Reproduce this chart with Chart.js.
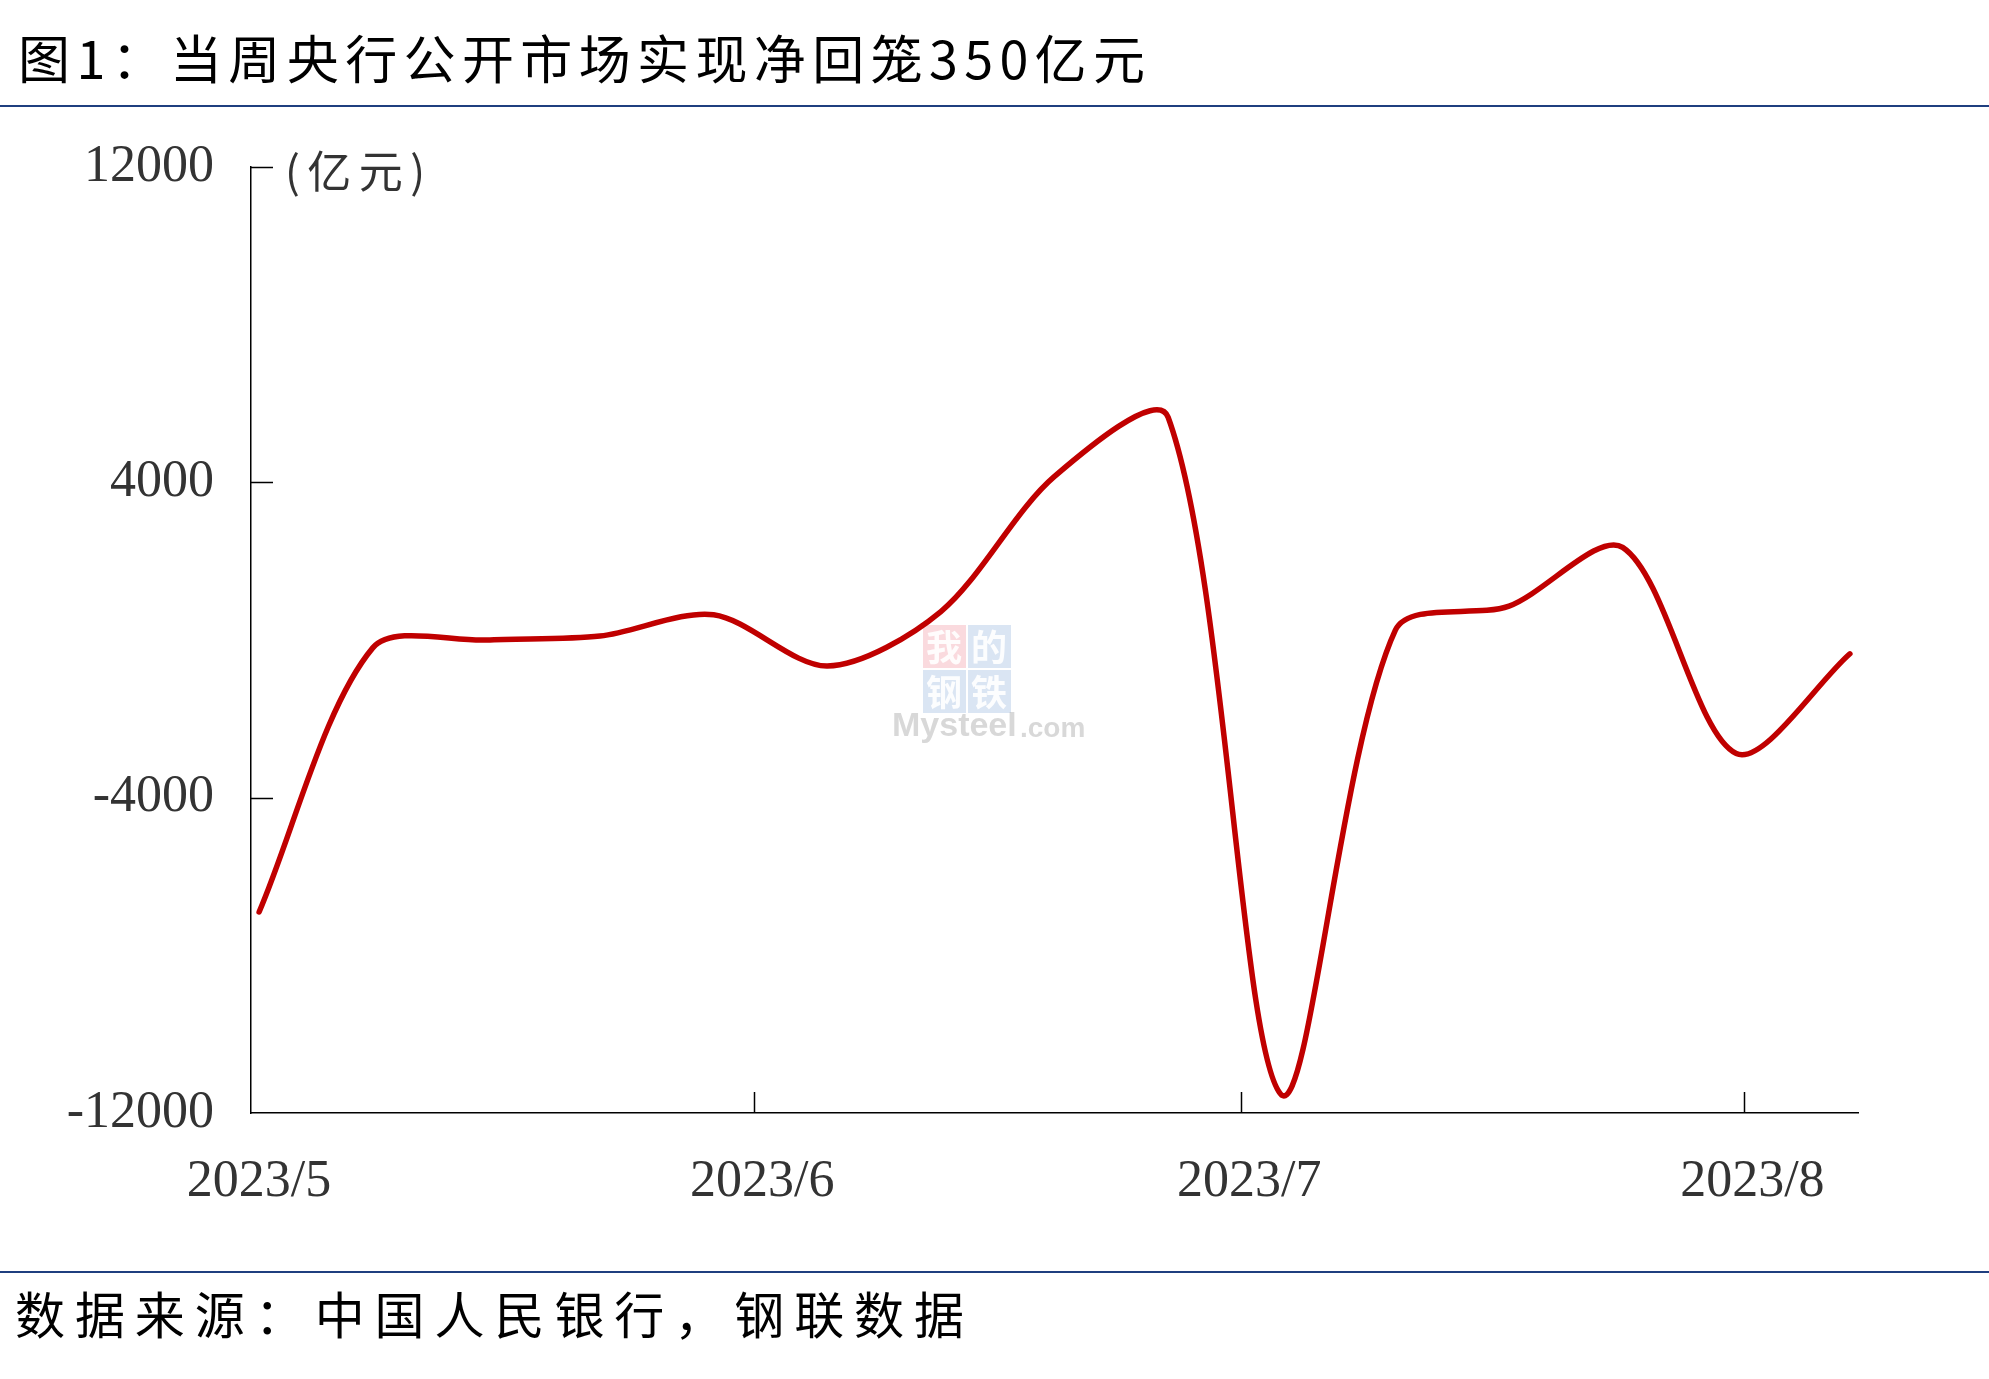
<!DOCTYPE html>
<html>
<head>
<meta charset="utf-8">
<script src="https://cdn.jsdelivr.net/npm/chart.js"></script>
<style>
	html, body { margin: 0; padding: 0; background: #fff; }
	#wrap { width: 1989px; height: 1379px; }
</style>
</head>
<body>
<div id="wrap"><canvas id="rrChart" width="1989" height="1379"></canvas></div>
<script>
// 每周公开市场净投放（亿元），负值为净回笼
const weekDates = ['2023-05-01', '2023-05-08', '2023-05-15', '2023-05-22', '2023-05-29',
	'2023-06-05', '2023-06-12', '2023-06-19', '2023-06-26', '2023-07-03',
	'2023-07-10', '2023-07-17', '2023-07-24', '2023-07-31', '2023-08-07'];
const netInjection = [-6900, -200, 0, 100, 640, -660, 720, 4150, 5650, -11550, 250, 860, 2350, -2880, -350];

// 坐标轴
const monthTicks = ['2023-05-01', '2023-06-01', '2023-07-01', '2023-08-01'];
const monthLabels = ['2023/5', '2023/6', '2023/7', '2023/8'];
const axisStart = '2023-05-01';
const axisEnd = '2023-08-08';
const yTicks = [-12000, -4000, 4000, 12000];

const titleText = '图1：当周央行公开市场实现净回笼350亿元';
const sourceText = '数据来源：中国人民银行，钢联数据';
const unitText = '(亿元)';

function dayOf(d) {
	return (Date.parse(d) - Date.parse(axisStart)) / 86400000;
}

// 写字并拉伸字距到目标宽度
function spacedText(ctx, text, x, y, width) {
	ctx.letterSpacing = '0px';
	const w = ctx.measureText(text).width;
	const n = Array.from(text).length;
	ctx.letterSpacing = ((width - w) / (n - 1)) + 'px';
	ctx.fillText(text, x, y);
	ctx.letterSpacing = '0px';
}

const pagePlugin = {
	id: 'page',
	beforeDraw(chart) {
		const ctx = chart.ctx;
		ctx.save();
		ctx.fillStyle = '#fff';
		ctx.fillRect(0, 0, chart.width, chart.height);

		ctx.fillStyle = '#000';
		ctx.textBaseline = 'middle';
		ctx.textAlign = 'left';
		ctx.font = '52px "Noto Sans CJK SC"';
		spacedText(ctx, titleText, 18, 59, 1127);

		ctx.font = '50px "Noto Sans CJK SC"';
		spacedText(ctx, sourceText, 15, 1315, 949);

		// 蓝色分隔线
		ctx.fillStyle = '#1F3F7F';
		ctx.fillRect(0, 105, chart.width, 2);
		ctx.fillRect(0, 1271, chart.width, 2);

		// 单位
		ctx.fillStyle = '#333';
		ctx.font = '44px "Noto Sans CJK SC"';
		spacedText(ctx, unitText, 285, 171, 140);

		// 水印
		const wx = 923, wy = 625;
		ctx.fillStyle = 'rgba(240,150,160,0.35)';
		ctx.fillRect(wx, wy, 43, 43);
		ctx.fillStyle = 'rgba(150,180,220,0.35)';
		ctx.fillRect(wx + 45, wy, 43, 43);
		ctx.fillRect(wx, wy + 45, 43, 43);
		ctx.fillRect(wx + 45, wy + 45, 43, 43);
		ctx.fillStyle = 'rgba(255,255,255,0.9)';
		ctx.font = 'bold 36px "Noto Sans CJK SC"';
		ctx.textAlign = 'center';
		ctx.fillText('我', wx + 21, wy + 22);
		ctx.fillText('的', wx + 66, wy + 22);
		ctx.fillText('钢', wx + 21, wy + 67);
		ctx.fillText('铁', wx + 66, wy + 67);
		ctx.fillStyle = 'rgba(190,190,190,0.6)';
		ctx.font = 'bold 34px "Liberation Sans"';
		ctx.textAlign = 'left';
		ctx.fillText('Mysteel', 892, 727);
		ctx.font = 'bold 28px "Liberation Sans"';
		ctx.fillText('.com', 1020, 729);
		ctx.restore();
	},
	afterDraw(chart) {
		// 向内的刻度线
		const ctx = chart.ctx;
		const xs = chart.scales.x, ys = chart.scales.y;
		const ca = chart.chartArea;
		ctx.save();
		ctx.strokeStyle = '#000';
		ctx.lineWidth = 1.5;
		ctx.beginPath();
		xs.ticks.forEach(t => {
			const px = Math.round(xs.getPixelForValue(t.value)) + 0.5;
			if (px <= ca.left + 2) return;
			ctx.moveTo(px, ca.bottom);
			ctx.lineTo(px, ca.bottom - 21);
		});
		ys.ticks.forEach(t => {
			const py = Math.round(ys.getPixelForValue(t.value)) + 0.5;
			if (py >= ca.bottom - 2) return;
			ctx.moveTo(ca.left, py);
			ctx.lineTo(ca.left + 22, py);
		});
		ctx.stroke();
		ctx.restore();
	}
};

document.addEventListener('DOMContentLoaded', function() {
	const ctx = document.getElementById('rrChart').getContext('2d');
	const points = weekDates.map((d, i) => ({ x: dayOf(d) + 0.5, y: netInjection[i] }));
	const tickFont = { family: '"Liberation Serif", "Times New Roman", serif', size: 52 };

	new Chart(ctx, {
		type: 'line',
		data: {
			datasets: [{
				data: points,
				borderColor: '#C00000',
				borderWidth: 5.5,
				borderCapStyle: 'round',
				borderJoinStyle: 'round',
				pointRadius: 0,
				tension: 0.3,
				fill: false
			}]
		},
		options: {
			responsive: false,
			devicePixelRatio: 1,
			animation: false,
			layout: { padding: { top: 167, right: 131, left: 0, bottom: 0 } },
			plugins: {
				legend: { display: false },
				tooltip: { enabled: false }
			},
			scales: {
				x: {
					type: 'linear',
					min: dayOf(axisStart),
					max: dayOf(axisEnd),
					afterBuildTicks: s => { s.ticks = monthTicks.map(d => ({ value: dayOf(d) })); },
					afterFit: s => { s.height = 266; },
					grid: { display: false, drawTicks: false },
					border: { display: true, color: '#000', width: 1.5 },
					ticks: {
						autoSkip: false,
						maxRotation: 0,
						padding: 38,
						labelOffset: 8,
						color: '#333',
						font: tickFont,
						callback: (v, i) => monthLabels[i]
					}
				},
				y: {
					min: -12000,
					max: 12000,
					afterBuildTicks: s => { s.ticks = yTicks.map(v => ({ value: v })); },
					afterFit: s => { s.width = 251; },
					grid: { display: false, drawTicks: false },
					border: { display: true, color: '#000', width: 1.5 },
					ticks: {
						padding: 37,
						color: '#333',
						font: tickFont,
						callback: v => String(v)
					}
				}
			}
		},
		plugins: [pagePlugin]
	});
});
</script>
</body>
</html>
